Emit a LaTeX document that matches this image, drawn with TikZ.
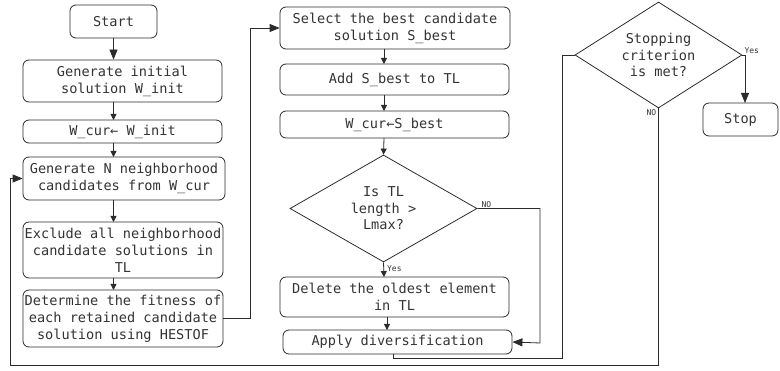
\documentclass[tikz,border=0pt]{standalone}
\usepackage{fontspec}
\setmonofont{DejaVu Sans Mono}
\usetikzlibrary{arrows.meta,shapes.geometric}
\definecolor{ln}{HTML}{2B2B2B}
\definecolor{tx}{HTML}{333333}
\tikzset{
  box/.style={draw=ln, line width=0.8pt, rounded corners=6pt, align=center, inner sep=1pt,
    font=\ttfamily\fontsize{13.6}{17}\selectfont, text=tx},
  dia/.style={draw=ln, line width=0.8pt, diamond, align=center, inner sep=0pt,
    font=\ttfamily\fontsize{13.6}{16.5}\selectfont, text=tx},
  con/.style={draw=ln, line width=0.8pt},
  arr/.style={con, -{Triangle[length=6pt,width=6pt]}},
  bigarr/.style={con, -{Triangle[length=10pt,width=8pt]}},
  lab/.style={font=\ttfamily\fontsize{8}{9}\selectfont, text=tx, inner sep=1pt}
}
\begin{document}
\begin{tikzpicture}[x=1pt,y=-1pt]
\useasboundingbox (0,0) rectangle (780,371);
% left column
\node[box, minimum width=87pt, minimum height=33pt] (start) at (113.5,21.5) {Start};
\node[box, minimum width=199pt, minimum height=42pt] (gen) at (122.5,81) {Generate initial\\solution W\_init};
\node[box, minimum width=199pt, minimum height=23pt] (wc1) at (122.5,131.5) {W\_cur← W\_init};
\node[box, minimum width=202pt, minimum height=43pt] (genN) at (124,178.5) {Generate N neighborhood\\candidates from W\_cur};
\node[box, minimum width=200pt, minimum height=56pt] (excl) at (123,250) {Exclude all neighborhood\\candidate solutions in\\TL};
\node[box, minimum width=200pt, minimum height=57pt] (det) at (123,318.5) {Determine the fitness of\\each retained candidate\\solution using HESTOF};
% middle column
\node[box, minimum width=230pt, minimum height=42pt] (sel) at (395,28) {Select the best candidate\\solution S\_best};
\node[box, minimum width=229pt, minimum height=31pt] (add) at (394.5,79.5) {Add S\_best to TL};
\node[box, minimum width=229pt, minimum height=27pt] (wc2) at (394.5,124.5) {W\_cur←S\_best};
\node[dia, aspect=1.75, minimum width=187pt, minimum height=107pt] (d1) at (383.5,208.5) {Is TL\\length >\\Lmax?};
\node[box, minimum width=229pt, minimum height=40pt] (del) at (394.5,297) {Delete the oldest element\\in TL};
\node[box, minimum width=229pt, minimum height=24pt] (app) at (397.5,342) {Apply diversification};
% right column
\node[dia, aspect=1.6, minimum width=167pt, minimum height=106pt] (d2) at (658.5,55) {Stopping\\criterion\\is met?};
\node[box, minimum width=75pt, minimum height=33pt] (stop) at (740.5,119.5) {Stop};
% connectors
\draw[bigarr] (start.south) -- (start.south |- gen.north);
\draw[arr] (113.5,102) -- (113.5,120);
\draw[arr] (113.5,143) -- (113.5,157);
\draw[arr] (113.5,200) -- (113.5,222);
\draw[arr] (113.5,278) -- (113.5,290);
\draw[bigarr] (det.east) -| (250,28) -- (sel.west);
\draw[arr] (384,49) -- (384,64);
\draw[arr] (384,95) -- (384,111);
\draw[arr] (384,138) -- (d1.north);
\draw[arr] (d1.south) -- (384,277) node[lab, pos=0.45, right=2pt] {Yes};
\draw[arr] (387,317) -- (387,330);
\draw[bigarr] (d1.east) -| (540,343) -- (app.east);
\node[lab, anchor=south west] at ([xshift=3pt]d1.east) {NO};
\draw[con] (393,354) |- (562,358) |- (d2.west);
\draw[bigarr] (d2.south) -- (658.5,365) -| (10,178.5) -- (genN.west);
\node[lab, anchor=north east] at ([xshift=-1pt]d2.south) {NO};
\draw[bigarr] (d2.east) -| (745,103);
\node[lab, anchor=south west] at ([xshift=1pt]d2.east) {Yes};
\end{tikzpicture}
\end{document}
